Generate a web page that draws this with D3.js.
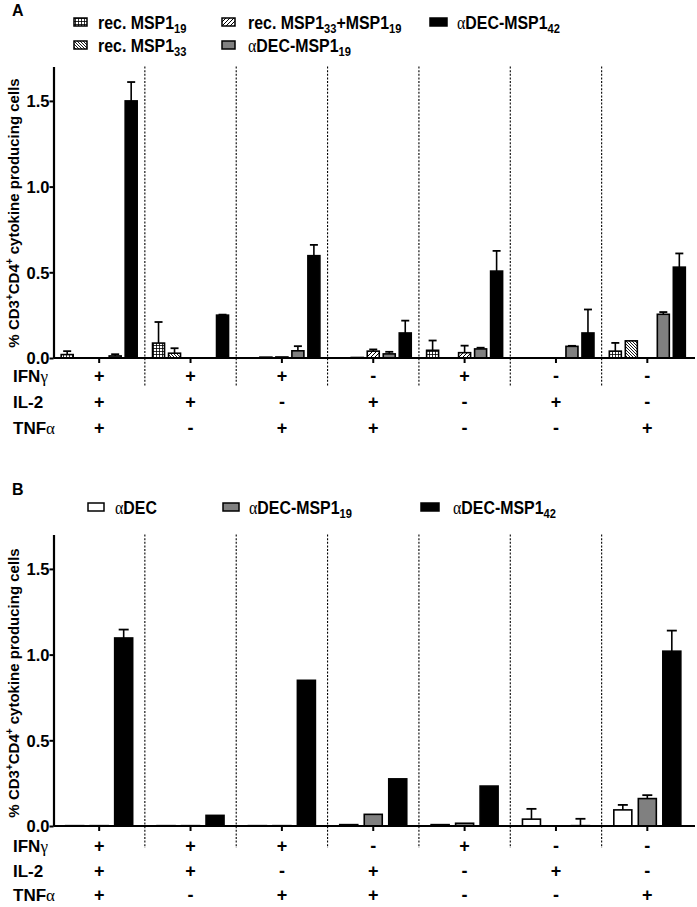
<!DOCTYPE html>
<html>
<head>
<meta charset="utf-8">
<script src="https://cdn.jsdelivr.net/npm/d3@7"></script>
<style>
  html, body { margin: 0; padding: 0; background: #fff; }
  svg { display: block; }
  text { font-family: "Liberation Sans", Arial, sans-serif; font-weight: bold; fill: #000; }
</style>
</head>
<body>
<svg id="chart" width="697" height="907"></svg>
<script>
// ---------------- DATA ----------------
const groups = ["1", "2", "3", "4", "5", "6", "7"];
const rowLabels = ["IFNγ", "IL-2", "TNFα"];
const ifngSigns = ["+", "+", "+", "-", "+", "-", "-"];
const il2Signs  = ["+", "+", "-", "+", "-", "+", "-"];
const tnfaSigns = ["+", "-", "+", "+", "-", "-", "+"];
const yTicks = [0, 0.5, 1.0, 1.5];

// Panel A series
const seriesA = ["rec. MSP1_19", "rec. MSP1_33", "rec. MSP1_33+MSP1_19", "αDEC-MSP1_19", "αDEC-MSP1_42"];
const aMSP19      = [0.020, 0.087, 0.000, 0.000, 0.045, 0.000, 0.040];
const aMSP19Err   = [0.020, 0.123, 0.000, 0.000, 0.057, 0.000, 0.048];
const aMSP33      = [0.000, 0.028, 0.005, 0.003, 0.000, 0.000, 0.100];
const aMSP33Err   = [0.000, 0.029, 0.000, 0.000, 0.000, 0.000, 0.000];
const aMSP3319    = [0.000, 0.000, 0.006, 0.040, 0.031, 0.000, 0.000];
const aMSP3319Err = [0.000, 0.000, 0.000, 0.010, 0.041, 0.000, 0.000];
const aDEC19      = [0.012, 0.000, 0.042, 0.024, 0.053, 0.068, 0.255];
const aDEC19Err   = [0.010, 0.000, 0.027, 0.012, 0.007, 0.003, 0.013];
const aDEC42      = [1.500, 0.250, 0.597, 0.146, 0.507, 0.146, 0.530];
const aDEC42Err   = [0.110, 0.003, 0.063, 0.072, 0.118, 0.137, 0.080];

// Panel B series
const seriesB = ["αDEC", "αDEC-MSP1_19", "αDEC-MSP1_42"];
const bDEC        = [0.002, 0.002, 0.002, 0.008, 0.008, 0.040, 0.094];
const bDECErr     = [0.000, 0.000, 0.000, 0.000, 0.000, 0.060, 0.029];
const bDEC19      = [0.002, 0.002, 0.002, 0.068, 0.016, 0.000, 0.160];
const bDEC19Err   = [0.000, 0.000, 0.000, 0.000, 0.000, 0.000, 0.020];
const bDEC42      = [1.097, 0.062, 0.850, 0.275, 0.233, 0.002, 1.020];
const bDEC42Err   = [0.049, 0.000, 0.000, 0.000, 0.000, 0.040, 0.120];

// ---------------- DRAW ----------------
const svg = d3.select("#chart");
const defs = svg.append("defs");
const SERIF = '"Liberation Serif", "Times New Roman", serif';

// patterns
const pGrid = defs.append("pattern").attr("id", "pGrid").attr("patternUnits", "userSpaceOnUse")
  .attr("width", 3).attr("height", 3);
pGrid.append("rect").attr("width", 3).attr("height", 3).attr("fill", "#fff");
pGrid.append("path").attr("d", "M0,0.4H3M0.4,0V3").attr("stroke", "#000").attr("stroke-width", 0.9);

const pBack = defs.append("pattern").attr("id", "pBack").attr("patternUnits", "userSpaceOnUse")
  .attr("width", 3).attr("height", 3);
pBack.append("rect").attr("width", 3).attr("height", 3).attr("fill", "#fff");
pBack.append("path").attr("d", "M0,0L3,3M-1,2L1,4M2,-1L4,1").attr("stroke", "#000").attr("stroke-width", 0.9);

const pFwd = defs.append("pattern").attr("id", "pFwd").attr("patternUnits", "userSpaceOnUse")
  .attr("width", 4).attr("height", 4);
pFwd.append("rect").attr("width", 4).attr("height", 4).attr("fill", "#fff");
pFwd.append("path").attr("d", "M0,4L4,0M-1,1L1,-1M3,5L5,3").attr("stroke", "#000").attr("stroke-width", 1);

const fillsA = ["url(#pGrid)", "url(#pBack)", "url(#pFwd)", "#808080", "#000"];
const fillsB = ["#fff", "#808080", "#000"];

// Builds tspans for names like "αDEC-MSP1_19" (α in serif, _NN as subscript)
function legendText(sel, name, size) {
  const segs = name.split(/(_\d+)/).filter(s => s.length);
  let shifted = false;
  segs.forEach(seg => {
    if (seg[0] === "_") {
      sel.append("tspan").text(seg.slice(1)).attr("dy", 4).style("font-size", (size * 0.7) + "px");
      shifted = true;
    } else {
      let rest = seg;
      if (rest[0] === "α") {
        const t = sel.append("tspan").text("α").style("font-family", SERIF).style("font-weight", "normal");
        if (shifted) { t.attr("dy", -4); shifted = false; }
        rest = rest.slice(1);
      }
      const t2 = sel.append("tspan").text(rest);
      if (shifted) { t2.attr("dy", -4); shifted = false; }
    }
  });
}

const x0 = d3.scaleBand().domain(groups).range([53.5, 693]).padding(0);

function drawPanel(cfg) {
  const g = svg.append("g");
  const y = d3.scaleLinear().domain([0, 1.7]).range([cfg.base, cfg.base - 1.7 * 171.4]);
  const x1 = d3.scaleBand().domain(cfg.series).range([0, x0.bandwidth()])
    .paddingInner(cfg.pi).paddingOuter(cfg.po);

  // separators
  g.selectAll("line.sep").data(groups.slice(1)).join("line")
    .attr("x1", d => x0(d)).attr("x2", d => x0(d))
    .attr("y1", y(1.7)).attr("y2", cfg.sepEnd)
    .attr("stroke", "#000").attr("stroke-width", 1.1).attr("stroke-dasharray", "2,1.6");

  // bars + error bars
  cfg.series.forEach((s, si) => {
    const vals = cfg.values[si], errs = cfg.errors[si];
    const gg = g.append("g");
    groups.forEach((gr, gi) => {
      const v = vals[gi], e = errs[gi];
      const bx = x0(gr) + x1(s);
      const cx = bx + x1.bandwidth() / 2;
      if (e > 0) {
        gg.append("line").attr("x1", cx).attr("x2", cx).attr("y1", y(v)).attr("y2", y(v + e))
          .attr("stroke", "#000").attr("stroke-width", 1.6);
        gg.append("line").attr("x1", cx - cfg.cap / 2).attr("x2", cx + cfg.cap / 2)
          .attr("y1", y(v + e)).attr("y2", y(v + e)).attr("stroke", "#000").attr("stroke-width", 1.8);
      }
      if (v <= 0) return;
      gg.append("rect").attr("x", bx).attr("width", x1.bandwidth())
        .attr("y", y(v)).attr("height", y(0) - y(v))
        .attr("fill", cfg.fills[si]).attr("stroke", "#000").attr("stroke-width", 1.6);
    });
  });

  // y axis
  const ya = g.append("g").attr("transform", "translate(53.5,0)")
    .call(d3.axisLeft(y).tickValues(yTicks).tickFormat(d3.format(".1f")).tickSize(4).tickSizeOuter(0));
  ya.select(".domain").attr("stroke-width", 2.2);
  ya.selectAll(".tick line").attr("stroke-width", 2);
  ya.selectAll(".tick text").attr("x", -4).attr("dy", "0.36em")
    .style("font-size", "16.5px").style("font-family", '"Liberation Sans", Arial, sans-serif').style("font-weight", "bold");

  // x axis
  const xa = g.append("g").attr("transform", `translate(0,${cfg.base})`)
    .call(d3.axisBottom(x0).tickSize(5).tickSizeOuter(0).tickFormat(""));
  xa.select(".domain").attr("d", `M53.5,0H695`).attr("stroke-width", 2.2);
  xa.selectAll(".tick line").attr("stroke-width", 2);

  // y label
  const yl = g.append("text").attr("transform", `translate(19,${cfg.labelY}) rotate(-90)`)
    .attr("text-anchor", "middle").style("font-size", "15px");
  yl.append("tspan").text("% CD3");
  yl.append("tspan").text("+").attr("dy", -6).style("font-size", "10px");
  yl.append("tspan").text("CD4").attr("dy", 6);
  yl.append("tspan").text("+").attr("dy", -6).style("font-size", "10px");
  yl.append("tspan").text(" cytokine producing cells").attr("dy", 6);

  // table rows
  const signRows = [ifngSigns, il2Signs, tnfaSigns];
  rowLabels.forEach((lab, ri) => {
    const by = cfg.rowY[ri];
    const t = g.append("text").attr("x", 13).attr("y", by).style("font-size", "17px");
    const last = lab.slice(-1);
    if (last === "γ" || last === "α") {
      t.append("tspan").text(lab.slice(0, -1));
      t.append("tspan").text(last).style("font-family", SERIF).style("font-weight", "normal");
    } else t.text(lab);
    g.selectAll(null).data(signRows[ri]).join("text")
      .attr("x", (d, i) => x0(groups[i]) + x0.bandwidth() / 2).attr("y", by)
      .attr("text-anchor", "middle").style("font-size", "18px").text(d => d);
  });

  // panel letter
  g.append("text").attr("x", 12).attr("y", cfg.letterY).style("font-size", "16px").text(cfg.letter);

  // legend
  cfg.legend.forEach(L => {
    const si = L.s;
    g.append("rect").attr("x", L.x).attr("y", L.y - 4).attr("width", L.w).attr("height", 8)
      .attr("fill", cfg.fills[si]).attr("stroke", "#000").attr("stroke-width", 1.5);
    const t = g.append("text").attr("transform", `translate(${L.tx},${L.y + 6.5}) scale(0.86,1)`)
      .style("font-size", "18.5px");
    legendText(t, cfg.series[si], 18.5);
  });
}

drawPanel({
  series: seriesA, fills: fillsA,
  values: [aMSP19, aMSP33, aMSP3319, aDEC19, aDEC42],
  errors: [aMSP19Err, aMSP33Err, aMSP3319Err, aDEC19Err, aDEC42Err],
  base: 358, pi: 0.25, po: 0.48, cap: 8, sepEnd: 386, labelY: 213,
  rowY: [382, 408, 434], letter: "A", letterY: 16,
  legend: [
    { s: 0, x: 74, y: 22, w: 13, tx: 98 },
    { s: 1, x: 74, y: 45, w: 13, tx: 98 },
    { s: 2, x: 222, y: 22, w: 13, tx: 248 },
    { s: 3, x: 222, y: 45, w: 13, tx: 248 },
    { s: 4, x: 430, y: 22, w: 17, tx: 457 }
  ]
});

drawPanel({
  series: seriesB, fills: fillsB,
  values: [bDEC, bDEC19, bDEC42],
  errors: [bDECErr, bDEC19Err, bDEC42Err],
  base: 826, pi: 0.265, po: 0.497, cap: 10, sepEnd: 848, labelY: 683,
  rowY: [852, 877, 901], letter: "B", letterY: 495,
  legend: [
    { s: 0, x: 88, y: 507, w: 16, tx: 115 },
    { s: 1, x: 223, y: 507, w: 16, tx: 249 },
    { s: 2, x: 421, y: 507, w: 18, tx: 453 }
  ]
});
</script>
</body>
</html>
